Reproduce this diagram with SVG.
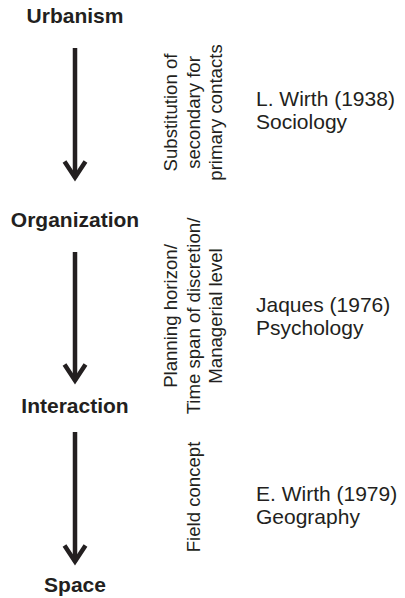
<svg xmlns="http://www.w3.org/2000/svg" width="405" height="598" viewBox="0 0 405 598">
<style>
.bg{fill:#ffffff}
.lbl{font-family:"Liberation Sans",Arial,Helvetica,sans-serif;font-weight:bold;font-size:21px;fill:#231f20;text-anchor:middle}
.rot{font-family:"Liberation Sans",Arial,Helvetica,sans-serif;font-size:18.6px;fill:#231f20;text-anchor:middle}
.src{font-family:"Liberation Sans",Arial,Helvetica,sans-serif;font-size:21px;fill:#231f20}
.arr{stroke:#231f20;stroke-width:4.5;fill:none;marker-end:url(#ah)}
</style>
<defs>
<marker id="ah" markerUnits="userSpaceOnUse" orient="auto" refX="0" refY="0" markerWidth="30" markerHeight="30" overflow="visible">
<path d="M-16,-10.5 L0,0 L-16,10.5" fill="none" stroke="#231f20" stroke-width="4.5" stroke-linejoin="miter" stroke-miterlimit="10"/>
</marker>
</defs>
<rect class="bg" x="0" y="0" width="405" height="598"/>
<g id="connectors">
<line class="arr" x1="75" y1="48" x2="75" y2="177.5"/>
<line class="arr" x1="75" y1="252" x2="75" y2="380.5"/>
<line class="arr" x1="75" y1="432" x2="75" y2="561.5"/>
</g>
<g id="node-urbanism"><text class="lbl" x="75" y="23">Urbanism</text></g>
<g id="node-organization"><text class="lbl" x="75" y="227">Organization</text></g>
<g id="node-interaction"><text class="lbl" x="75" y="413">Interaction</text></g>
<g id="node-space"><text class="lbl" x="75" y="592">Space</text></g>
<g id="label-1">
<text class="rot" transform="translate(177,112.5) rotate(-90)"><tspan x="0" y="0">Substitution of</tspan><tspan x="0" y="22.5">secondary for</tspan><tspan x="0" y="45">primary contacts</tspan></text>
</g>
<g id="label-2">
<text class="rot" transform="translate(177,316) rotate(-90)"><tspan x="0" y="0">Planning horizon/</tspan><tspan x="0" y="22.5">Time span of discretion/</tspan><tspan x="0" y="45">Managerial level</tspan></text>
</g>
<g id="label-3">
<text class="rot" transform="translate(199.5,497) rotate(-90)">Field concept</text>
</g>
<g id="source-1"><text class="src" x="256" y="106"><tspan x="256">L. Wirth (1938)</tspan><tspan x="256" dy="22.5">Sociology</tspan></text></g>
<g id="source-2"><text class="src" x="256" y="312"><tspan x="256">Jaques (1976)</tspan><tspan x="256" dy="22.5">Psychology</tspan></text></g>
<g id="source-3"><text class="src" x="256" y="501"><tspan x="256">E. Wirth (1979)</tspan><tspan x="256" dy="22.5">Geography</tspan></text></g>
</svg>
